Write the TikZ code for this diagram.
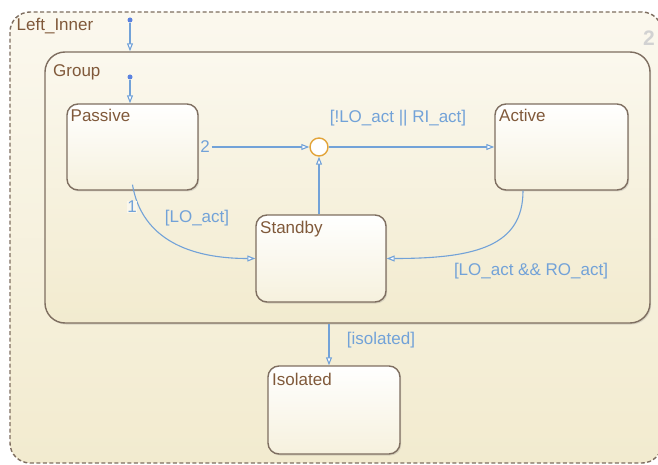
\documentclass[tikz,border=0pt]{standalone}
\usepackage{fontspec}
\setmainfont{Liberation Sans}
\usetikzlibrary{arrows.meta,shadows,calc}
\definecolor{bgtop}{HTML}{FBF8EE}
\definecolor{bgbot}{HTML}{F2EBCF}
\definecolor{stborder}{HTML}{7E6E60}
\definecolor{sttext}{HTML}{80593A}
\definecolor{trblue}{HTML}{72A2D8}
\definecolor{junc}{HTML}{E2A43A}
\tikzset{
  statebox/.style={draw=stborder, line width=1.4pt, rounded corners=11pt,
    top color=white, bottom color=bgbot!70!white, inner sep=0pt,
    drop shadow={opacity=0.25, shadow xshift=1.2pt, shadow yshift=-1.5pt}},
  groupbox/.style={draw=stborder, line width=1.4pt, rounded corners=20pt,
    top color=bgtop, bottom color=bgbot, inner sep=0pt,
    drop shadow={opacity=0.25, shadow xshift=1.2pt, shadow yshift=-1.5pt}},
  stname/.style={anchor=north west, inner sep=0pt, text=sttext, font=\fontsize{17}{19}\selectfont},
  trlabel/.style={inner sep=0pt, text=trblue, font=\fontsize{17}{19}\selectfont},
  trans/.style={draw=trblue, line width=1.1pt, -{Triangle[open, length=8pt, width=6pt, fill=white]}},
  dotstart/.style={circle, fill=trblue!80!blue, inner sep=0pt, minimum size=5pt},
}
\begin{document}
\begin{tikzpicture}[x=1pt,y=-1pt]
\useasboundingbox (0,0) rectangle (658,465);
\fill[white] (0,0) rectangle (658,465);
% outer chart
\node[draw=stborder, line width=1.4pt, dash pattern=on 4pt off 2.5pt, rounded corners=20pt,
  top color=bgtop, bottom color=bgbot, minimum width=652pt, minimum height=451pt, inner sep=0pt]
  (outer) at (336,237.5) {};
\node[stname, anchor=base west] (outerlbl) at (16.5,31) {Left\_Inner};
\node[anchor=west, inner sep=0pt, text=gray!35, font=\fontsize{21}{24}\bfseries\selectfont] (num) at (643,38) {2};
% group
\node[groupbox, minimum width=605pt, minimum height=271pt] (Group) at (347.5,187.5) {};
\node[stname, anchor=base west] (grouplbl) at (53,77) {Group};
% states
\node[statebox, minimum width=131pt, minimum height=86pt] (Passive) at (132.5,147) {};
\node[stname, anchor=base west] (passivelbl) at (70.5,121.5) {Passive};
\node[statebox, minimum width=133pt, minimum height=86pt] (Active) at (561.5,147) {};
\node[stname, anchor=base west] (activelbl) at (499,121.5) {Active};
\node[statebox, minimum width=130pt, minimum height=87pt] (Standby) at (321,258.5) {};
\node[stname, anchor=base west] (standbylbl) at (260,233.5) {Standby};
\node[statebox, minimum width=132pt, minimum height=88pt] (Isolated) at (334,410) {};
\node[stname, anchor=base west] (isolatedlbl) at (272,385.5) {Isolated};
% junction
\node[circle, draw=junc, line width=1.4pt, fill=white, minimum size=18pt, inner sep=0pt] (J) at (319,147) {};
% default transitions
\node[dotstart] (d1) at (130,20) {};
\node[dotstart] (d2) at (130,77) {};
\draw[trans] (d1) -- (d1 |- Group.north);
\draw[trans] (d2) -- (d2 |- Passive.north);
% Passive -> junction
\draw[trans] ([xshift=13pt]Passive.east) -- (J.west);
\node[trlabel] (n2) at (205,147) {2};
% junction -> Active
\draw[trans] (J.east) -- (Active.west);
\node[trlabel] (l1) at (398,118) {[!LO\_act || RI\_act]};
% Standby -> junction
\draw[trans] (Standby.north -| J) -- (J.south);
% Passive -> Standby
\draw[trans] ([yshift=6pt]Passive.south) .. controls +(8,48) and +(-75,0) .. (Standby.west);
\node[trlabel, fill=bgbot!40!white, inner xsep=0.5pt] (n1) at (132,207) {1};
\node[trlabel] (l2) at (197,218) {[LO\_act]};
% Active -> Standby
\draw[trans] ([xshift=-38.5pt]Active.south) .. controls +(0,55) and +(90,0) .. (Standby.east);
\node[trlabel] (l3) at (531,271) {[LO\_act \&\& RO\_act]};
% Group -> Isolated
\draw[trans] ([xshift=-18.5pt]Group.south) -- ([xshift=-5pt]Isolated.north);
\node[trlabel] (l4) at (381,340) {[isolated]};
\end{tikzpicture}
\end{document}
